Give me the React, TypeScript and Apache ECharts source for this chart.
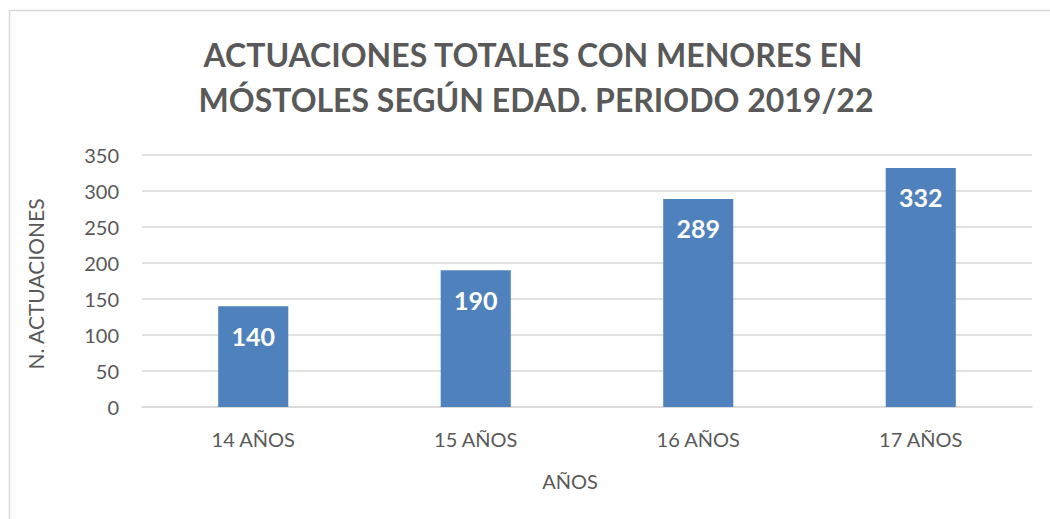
import React, { useEffect, useRef } from "react";
import * as echarts from "echarts";

const categories = ["14 AÑOS", "15 AÑOS", "16 AÑOS", "17 AÑOS"];
const values = [140, 190, 289, 332];
const titleLines = ["ACTUACIONES TOTALES CON MENORES EN", "MÓSTOLES SEGÚN EDAD. PERIODO 2019/22"];
const yAxisName = "N. ACTUACIONES";
const xAxisName = "AÑOS";

const FONT = "Lato, 'Open Sans', sans-serif";
const GREY = "#595959";

export default function App() {
  const ref = useRef<HTMLDivElement>(null);
  useEffect(() => {
    if (!ref.current) return;
    const chart = echarts.init(ref.current, null, { renderer: "svg" });
    chart.setOption({
      animation: false,
      backgroundColor: "#ffffff",
      textStyle: { fontFamily: FONT },
      grid: { left: 142, right: 18, top: 155, bottom: 112, containLabel: false },
      graphic: [
        {
          type: "rect",
          shape: { x: 9.5, y: 10.5, width: 1100, height: 600 },
          style: { fill: "none", stroke: "#d9d9d9", lineWidth: 1.5 },
          silent: true,
        },
        {
          type: "text",
          x: 533,
          y: 54,
          style: {
            text: titleLines[0],
            fill: GREY,
            font: `bold 32px ${FONT}`,
            textAlign: "center",
            textVerticalAlign: "middle",
          },
        },
        {
          type: "text",
          x: 536,
          y: 99,
          style: {
            text: titleLines[1],
            fill: GREY,
            font: `bold 32px ${FONT}`,
            textAlign: "center",
            textVerticalAlign: "middle",
          },
        },
        {
          type: "text",
          x: 570,
          y: 481,
          style: {
            text: xAxisName,
            fill: GREY,
            font: `20px ${FONT}`,
            textAlign: "center",
            textVerticalAlign: "middle",
          },
        },
        {
          type: "text",
          x: 35,
          y: 284,
          rotation: Math.PI / 2,
          style: {
            text: yAxisName,
            fill: GREY,
            font: `21px ${FONT}`,
            textAlign: "center",
            textVerticalAlign: "middle",
          },
        },
      ],
      xAxis: {
        type: "category",
        data: categories,
        axisLine: { show: true, lineStyle: { color: "#d9d9d9", width: 1.5 } },
        axisTick: { show: false },
        axisLabel: { color: GREY, fontSize: 20, fontFamily: FONT, margin: 22 },
      },
      yAxis: {
        type: "value",
        min: 0,
        max: 350,
        interval: 50,
        axisLine: { show: false },
        axisTick: { show: false },
        splitLine: { lineStyle: { color: "#d9d9d9", width: 1.5 } },
        axisLabel: { color: GREY, fontSize: 20, fontFamily: FONT, margin: 23 },
      },
      series: [
        {
          type: "bar",
          data: values,
          barWidth: "31.5%",
          itemStyle: { color: "#4f81bd" },
          label: {
            show: true,
            position: "insideTop",
            distance: 17,
            color: "#ffffff",
            fontWeight: "bold",
            fontSize: 25,
            fontFamily: FONT,
          },
        },
      ],
    });
    return () => chart.dispose();
  }, []);
  return (
    <div
      ref={ref}
      style={{ position: "fixed", left: 0, top: 0, width: 1050, height: 519 }}
    />
  );
}
